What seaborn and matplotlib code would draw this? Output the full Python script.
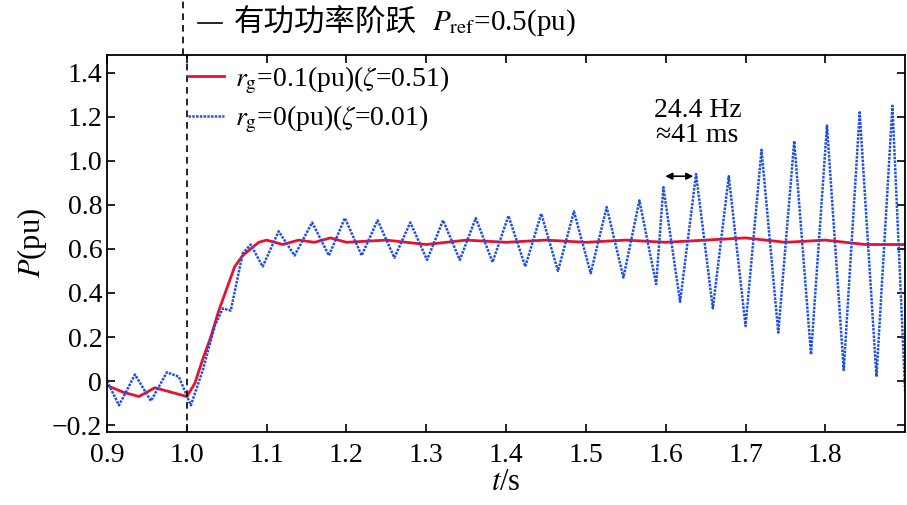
import numpy as np
import pandas as pd
import seaborn as sns
import matplotlib
matplotlib.use("Agg")
import matplotlib.pyplot as plt

plt.rcParams["font.family"] = "Liberation Serif"
plt.rcParams["mathtext.fontset"] = "stix"

blue_t = [0.900, 0.915, 0.935, 0.955, 0.975, 0.990, 1.005, 1.020, 1.035, 1.045, 1.055, 1.070, 1.080, 1.095,
          1.115, 1.135, 1.157, 1.178, 1.198, 1.219, 1.239, 1.260, 1.280, 1.301, 1.321, 1.342, 1.362, 1.383,
          1.403, 1.424, 1.444, 1.465, 1.485, 1.506, 1.526, 1.547, 1.567, 1.588, 1.597, 1.618, 1.638, 1.659,
          1.679, 1.700, 1.720, 1.741, 1.761, 1.782, 1.802, 1.823, 1.843, 1.864, 1.884, 1.900]
blue_p = [0.00, -0.11, 0.03, -0.09, 0.04, 0.02, -0.11, 0.05, 0.25, 0.33, 0.32, 0.58, 0.62, 0.52,
          0.68, 0.57, 0.72, 0.57, 0.74, 0.57, 0.73, 0.56, 0.72, 0.55, 0.73, 0.55, 0.74, 0.54,
          0.75, 0.52, 0.76, 0.50, 0.77, 0.49, 0.79, 0.47, 0.82, 0.44, 0.88, 0.36, 0.94, 0.33,
          0.93, 0.25, 1.05, 0.22, 1.09, 0.12, 1.16, 0.05, 1.22, 0.02, 1.25, -0.05]
red_t = [0.900, 0.920, 0.940, 0.960, 0.980, 1.000, 1.010, 1.020, 1.030, 1.040, 1.050, 1.060, 1.070,
         1.080, 1.090, 1.100, 1.120, 1.140, 1.160, 1.180, 1.200, 1.250, 1.300, 1.350, 1.400, 1.450,
         1.500, 1.550, 1.600, 1.650, 1.700, 1.750, 1.800, 1.850, 1.900]
red_p = [-0.02, -0.05, -0.07, -0.03, -0.05, -0.07, -0.01, 0.10, 0.20, 0.32, 0.42, 0.52, 0.57,
         0.60, 0.63, 0.64, 0.62, 0.64, 0.63, 0.65, 0.63, 0.64, 0.62, 0.64, 0.63, 0.64,
         0.63, 0.64, 0.63, 0.64, 0.65, 0.63, 0.64, 0.62, 0.62]
x_ticks = [0.9, 1.0, 1.1, 1.2, 1.3, 1.4, 1.5, 1.6, 1.7, 1.8]
y_ticks = [-0.2, 0, 0.2, 0.4, 0.6, 0.8, 1.0, 1.2, 1.4]

fig = plt.figure(figsize=(9.07, 5.05), dpi=100)
ax = fig.add_axes([0.118, 0.145, 0.880, 0.746])
sns.lineplot(x=red_t, y=red_p, ax=ax, color="#e8102e", lw=2, label=r"$r_{\rm g}$=0.1(pu)($\zeta$=0.51)")
sns.lineplot(x=blue_t, y=blue_p, ax=ax, color="#2050e0", lw=1.8, ls=(0, (1, 0.5)),
             label=r"$r_{\rm g}$=0(pu)($\zeta$=0.01)")
ax.set_xlim(0.9, 1.9)
ax.set_ylim(-0.23, 1.48)
ax.set_xticks(x_ticks)
ax.set_xticklabels([f"{v:.1f}" for v in x_ticks])
ax.set_yticks(y_ticks)
ax.set_yticklabels(["\u22120.2", "0", "0.2", "0.4", "0.6", "0.8", "1.0", "1.2", "1.4"])
ax.tick_params(direction="in", top=True, right=True, labelsize=20, length=6, width=1.2)
ax.tick_params(axis="x", pad=8)
for s in ax.spines.values():
    s.set_linewidth(1.3)
ax.set_xlabel(r"$t$/s", fontsize=22, labelpad=0)
ax.set_ylabel(r"$P$(pu)", fontsize=22, labelpad=2)
leg = ax.legend(loc="upper left", bbox_to_anchor=(0.08, 1.02), frameon=False, fontsize=20,
                handlelength=1.3, handletextpad=0.4, borderaxespad=0.2, labelspacing=0.3)
ax.axvline(1.0, color="black", ls=(0, (4, 3)), lw=1.2, ymax=1.0)
fig.add_artist(plt.Line2D([0.2015, 0.2015], [0.891, 1.0], color="black", ls=(0, (4, 3)), lw=1.2))
fig.add_artist(plt.Line2D([0.218, 0.245], [0.955, 0.955], color="black", lw=1.2))
fig.text(0.258, 0.955, "有功功率阶跃", fontfamily="Noto Sans CJK SC", fontsize=22, va="center")
fig.text(0.476, 0.955, r"$P_{\rm ref}$=0.5(pu)", fontsize=21, va="center")
ax.annotate("", xy=(1.596, 0.93), xytext=(1.638, 0.93),
            arrowprops=dict(arrowstyle="<|-|>", color="black", lw=1.2, mutation_scale=10))
ax.text(1.64, 1.17, "24.4 Hz\n\u224841 ms", fontsize=20, ha="center", va="center", linespacing=1.0)
fig.savefig("out.png", dpi=100)
